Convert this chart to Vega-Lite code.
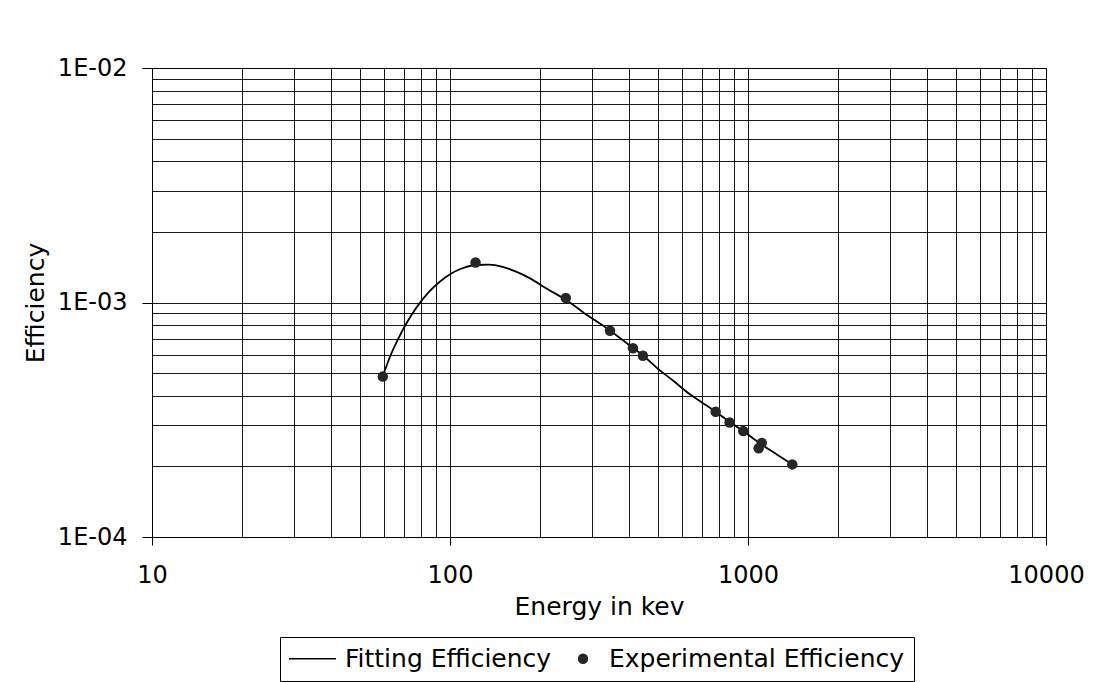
{
  "$schema": "https://vega.github.io/schema/vega-lite/v6.json",
  "width": 894,
  "height": 469,
  "autosize": {"type": "none"},
  "padding": {"left": 152, "top": 68, "right": 47, "bottom": 145},
  "background": "white",
  "config": {
    "font": "DejaVu Sans",
    "view": {"stroke": "#000000", "strokeWidth": 1},
    "axis": {
      "labelFont": "DejaVu Sans",
      "titleFont": "DejaVu Sans",
      "labelColor": "#000000",
      "titleColor": "#000000",
      "labelFontSize": 24,
      "titleFontSize": 25,
      "titleFontWeight": "normal",
      "domainColor": "#000000",
      "domainWidth": 1,
      "tickColor": "#000000",
      "tickWidth": 1,
      "gridColor": "#000000",
      "gridOpacity": 0.9,
      "gridWidth": 1,
      "labelFlush": false,
      "labelOverlap": false
    }
  },
  "datasets": {
    "fit": [
      {"series": "Fitting Efficiency", "energy": 59.5, "eff": 0.000485},
      {"series": "Fitting Efficiency", "energy": 63, "eff": 0.00059},
      {"series": "Fitting Efficiency", "energy": 67, "eff": 0.0007},
      {"series": "Fitting Efficiency", "energy": 72, "eff": 0.00083},
      {"series": "Fitting Efficiency", "energy": 78, "eff": 0.00097},
      {"series": "Fitting Efficiency", "energy": 85, "eff": 0.00111},
      {"series": "Fitting Efficiency", "energy": 92, "eff": 0.00122},
      {"series": "Fitting Efficiency", "energy": 100, "eff": 0.00132},
      {"series": "Fitting Efficiency", "energy": 110, "eff": 0.0014},
      {"series": "Fitting Efficiency", "energy": 122, "eff": 0.001445},
      {"series": "Fitting Efficiency", "energy": 135, "eff": 0.00145},
      {"series": "Fitting Efficiency", "energy": 150, "eff": 0.00142},
      {"series": "Fitting Efficiency", "energy": 165, "eff": 0.00136},
      {"series": "Fitting Efficiency", "energy": 185, "eff": 0.00127},
      {"series": "Fitting Efficiency", "energy": 210, "eff": 0.00115},
      {"series": "Fitting Efficiency", "energy": 244, "eff": 0.00103},
      {"series": "Fitting Efficiency", "energy": 290, "eff": 0.00088},
      {"series": "Fitting Efficiency", "energy": 344, "eff": 0.00076},
      {"series": "Fitting Efficiency", "energy": 411, "eff": 0.00064},
      {"series": "Fitting Efficiency", "energy": 444, "eff": 0.000595},
      {"series": "Fitting Efficiency", "energy": 500, "eff": 0.00052},
      {"series": "Fitting Efficiency", "energy": 560, "eff": 0.000465},
      {"series": "Fitting Efficiency", "energy": 640, "eff": 0.000405},
      {"series": "Fitting Efficiency", "energy": 700, "eff": 0.000375},
      {"series": "Fitting Efficiency", "energy": 779, "eff": 0.000342},
      {"series": "Fitting Efficiency", "energy": 867, "eff": 0.00031},
      {"series": "Fitting Efficiency", "energy": 964, "eff": 0.000283},
      {"series": "Fitting Efficiency", "energy": 1090, "eff": 0.000252},
      {"series": "Fitting Efficiency", "energy": 1250, "eff": 0.000225},
      {"series": "Fitting Efficiency", "energy": 1408, "eff": 0.000204}
    ],
    "exp": [
      {"series": "Experimental Efficiency", "energy": 59.5, "eff": 0.000483},
      {"series": "Experimental Efficiency", "energy": 121.8, "eff": 0.00148},
      {"series": "Experimental Efficiency", "energy": 244.7, "eff": 0.001045},
      {"series": "Experimental Efficiency", "energy": 344.3, "eff": 0.000758},
      {"series": "Experimental Efficiency", "energy": 411.1, "eff": 0.000638},
      {"series": "Experimental Efficiency", "energy": 444, "eff": 0.000593},
      {"series": "Experimental Efficiency", "energy": 778.9, "eff": 0.000342},
      {"series": "Experimental Efficiency", "energy": 867.4, "eff": 0.000308},
      {"series": "Experimental Efficiency", "energy": 964.1, "eff": 0.000283},
      {"series": "Experimental Efficiency", "energy": 1085.8, "eff": 0.000239},
      {"series": "Experimental Efficiency", "energy": 1112.1, "eff": 0.000252},
      {"series": "Experimental Efficiency", "energy": 1408, "eff": 0.000204}
    ]
  },
  "layer": [
    {
      "data": {"name": "fit"},
      "mark": {"type": "line", "interpolate": "monotone", "strokeWidth": 1.8},
      "encoding": {
        "x": {
          "field": "energy",
          "type": "quantitative",
          "scale": {"type": "log", "domain": [10, 10000], "nice": false},
          "axis": {
            "title": "Energy in kev",
            "values": [10, 20, 30, 40, 50, 60, 70, 80, 90, 100, 200, 300, 400, 500, 600, 700, 800, 900, 1000, 2000, 3000, 4000, 5000, 6000, 7000, 8000, 9000, 10000],
            "labelExpr": "indexof([10, 100, 1000, 10000], datum.value) >= 0 ? '' + datum.value : ''",
            "tickSize": 8,
            "tickOpacity": {"condition": {"test": "indexof([10, 100, 1000, 10000], datum.value) >= 0", "value": 1}, "value": 0},
            "labelPadding": 18,
            "titlePadding": 7,
            "grid": true
          }
        },
        "y": {
          "field": "eff",
          "type": "quantitative",
          "scale": {"type": "log", "domain": [0.0001, 0.01], "nice": false},
          "axis": {
            "title": "Efficiency",
            "values": [0.0001, 0.0002, 0.0003, 0.0004, 0.0005, 0.0006, 0.0007, 0.0008, 0.0009, 0.001, 0.002, 0.003, 0.004, 0.005, 0.006, 0.007, 0.008, 0.009, 0.01],
            "labelExpr": "datum.value == 0.01 ? '1E-02' : datum.value == 0.001 ? '1E-03' : datum.value == 0.0001 ? '1E-04' : ''",
            "tickSize": 10,
            "tickOpacity": {"condition": {"test": "datum.value == 0.01 || datum.value == 0.001 || datum.value == 0.0001", "value": 1}, "value": 0},
            "labelPadding": 15,
            "titlePadding": 9,
            "grid": true
          }
        },
        "color": {
          "field": "series",
          "type": "nominal",
          "scale": {"domain": ["Fitting Efficiency", "Experimental Efficiency"], "range": ["#000000", "#262626"]},
          "legend": {
            "title": null,
            "orient": "none",
            "legendX": 128,
            "legendY": 569,
            "direction": "horizontal",
            "strokeColor": "#000000",
            "fillColor": "white",
            "padding": 9,
            "columnPadding": 1,
            "labelOffset": 9,
            "labelLimit": 0,
            "labelFont": "DejaVu Sans",
            "labelFontSize": 25,
            "labelColor": "#000000",
            "symbolType": "circle",
            "encode": {
              "symbols": {
                "update": {
                  "x": {"signal": "datum.value === 'Fitting Efficiency' ? 23.5 : 30"},
                  "shape": {"signal": "datum.value === 'Fitting Efficiency' ? 'stroke' : 'circle'"},
                  "size": {"signal": "datum.value === 'Fitting Efficiency' ? 2209 : 80"},
                  "fill": {"signal": "datum.value === 'Fitting Efficiency' ? 'transparent' : '#262626'"},
                  "stroke": {"signal": "datum.value === 'Fitting Efficiency' ? '#000000' : 'transparent'"},
                  "strokeWidth": {"value": 1.5},
                  "opacity": {"value": 1}
                }
              },
              "labels": {
                "update": {
                  "x": {"value": 56}
                }
              }
            }
          }
        }
      }
    },
    {
      "data": {"name": "exp"},
      "mark": {"type": "point", "filled": true, "size": 110, "opacity": 1},
      "encoding": {
        "x": {"field": "energy", "type": "quantitative"},
        "y": {"field": "eff", "type": "quantitative"},
        "color": {"field": "series", "type": "nominal"}
      }
    }
  ]
}
